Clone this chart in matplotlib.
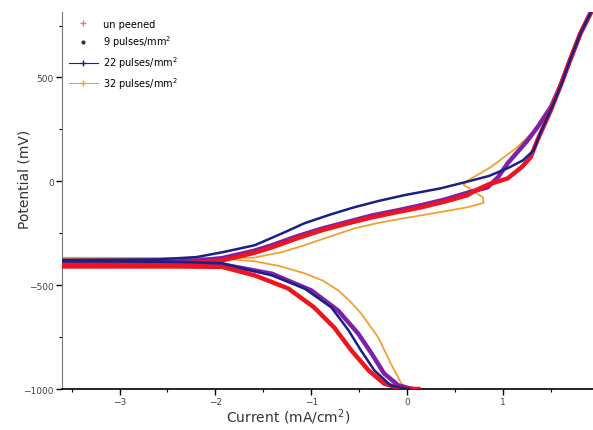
import numpy as np
import matplotlib
matplotlib.use('Agg')
import matplotlib.pyplot as plt
from matplotlib.ticker import MultipleLocator

# series labels and colours
labels = ['un peened', '9 pulses/mm$^2$', '22 pulses/mm$^2$', '32 pulses/mm$^2$']
colors = ['#ee1520', '#7b22a8', '#1c1f86', '#f2a035']

# log current (x) vs potential in mV (y)
# each trace: cathodic branch (bottom -> Ecorr), then anodic branch (Ecorr -> top)
red_x = [0.12, -0.06, -0.24, -0.40, -0.58, -0.76, -0.97, -1.24, -1.59, -1.93, -2.4, -3.6,
         -3.6, -2.6, -2.2, -1.93, -1.6, -1.41, -1.15, -0.89, -0.6, -0.37, -0.1, 0.15, 0.4, 0.63,
         0.72, 0.85, 1.05, 1.20, 1.29, 1.36, 1.50, 1.60, 1.70, 1.81, 1.92]
red_y = [-1000, -998, -974, -911, -815, -704, -607, -516, -453, -412, -410, -410,
         -402, -398, -392, -381, -345, -318, -275, -236, -200, -174, -148, -125, -97, -67,
         -43, -15, 14, 70, 116, 198, 342, 460, 583, 713, 815]

purple_x = [0.06, 0.04, -0.09, -0.24, -0.37, -0.51, -0.72, -1.00, -1.41, -1.93, -2.4, -3.6,
            -3.6, -2.6, -2.2, -1.93, -1.6, -1.41, -1.15, -0.89, -0.6, -0.37, -0.1, 0.15, 0.4, 0.63,
            0.84, 0.95, 1.05, 1.26, 1.36, 1.50, 1.60, 1.70, 1.81, 1.92]
purple_y = [-1000, -998, -983, -925, -829, -733, -622, -525, -445, -400, -398, -398,
            -394, -390, -382, -370, -335, -308, -265, -228, -193, -165, -140, -115, -87, -55,
            -29, 20, 87, 198, 260, 357, 460, 583, 713, 815]

navy_x = [0.02, -0.03, -0.17, -0.34, -0.48, -0.61, -0.79, -1.07, -1.41, -1.93, -2.4, -3.6,
          -3.6, -2.6, -2.2, -1.93, -1.59, -1.3, -1.07, -0.8, -0.55, -0.3, -0.03, 0.35, 0.6,
          0.85, 1.05, 1.21, 1.32, 1.39, 1.53, 1.62, 1.70, 1.81, 1.92]
navy_y = [-1000, -997, -983, -911, -815, -718, -607, -516, -453, -395, -388, -385,
          -378, -376, -365, -342, -308, -250, -202, -160, -125, -95, -67, -34, -5,
          25, 63, 101, 149, 231, 376, 480, 583, 713, 815]

orange_x = [0.18, 0.01, -0.06, -0.17, -0.30, -0.48, -0.60, -0.72, -0.88, -1.07, -1.33, -1.59, -1.93, -2.6, -3.6,
            -3.6, -2.6, -2.0, -1.6, -1.3, -1.07, -0.8, -0.55, -0.3, -0.03, 0.3, 0.63, 0.80,
            0.79, 0.70, 0.59, 0.62, 0.87, 1.15, 1.36, 1.53, 1.62, 1.72, 1.81, 1.92]
orange_y = [-1000, -998, -974, -877, -752, -636, -575, -525, -478, -443, -408, -385, -372, -370, -370,
            -368, -369, -370, -368, -340, -308, -265, -227, -200, -178, -152, -125, -104,
            -77, -50, -17, 0, 67, 164, 260, 370, 470, 600, 713, 815]

fig = plt.figure(figsize=(5.93, 4.31), dpi=100)
ax = fig.add_axes([62/593, 1 - 390/431, 531/593, 377/431])

ax.plot(orange_x, orange_y, color=colors[3], lw=1.3, zorder=2)
ax.plot(purple_x, purple_y, color=colors[1], lw=3.2, zorder=3)
ax.plot(red_x, red_y, color=colors[0], lw=3.2, zorder=4)
ax.plot(navy_x, navy_y, color=colors[2], lw=1.8, zorder=5)

# legend handles
h1, = ax.plot([], [], ls='none', marker='+', ms=4, color=colors[0], alpha=0.6)
h2, = ax.plot([], [], ls='none', marker='.', ms=4, color='#333333')
h3, = ax.plot([], [], ls='-', lw=0.8, marker='+', ms=4, color=colors[2])
h4, = ax.plot([], [], ls='-', lw=0.8, marker='+', ms=4, color=colors[3])
ax.legend([h1, h2, h3, h4], labels, loc='upper left', bbox_to_anchor=(0.0, 1.0),
          frameon=False, fontsize=7, handlelength=3.0, handletextpad=0.5,
          labelspacing=0.5, borderaxespad=0.3)

ax.set_xlim(-3.6, 1.94)
ax.set_ylim(-1000, 815)
ax.xaxis.set_major_locator(MultipleLocator(1))
ax.xaxis.set_minor_locator(MultipleLocator(0.5))
ax.yaxis.set_major_locator(MultipleLocator(500))
ax.yaxis.set_minor_locator(MultipleLocator(250))
ax.tick_params(which='both', direction='out', labelsize=6.5, labelcolor='#444444', pad=2)
ax.tick_params(which='major', length=4, width=1)
ax.tick_params(which='minor', length=2.5, width=0.8)

ax.spines['top'].set_visible(False)
ax.spines['right'].set_visible(False)
ax.spines['left'].set_color('#777777')
ax.spines['bottom'].set_linewidth(1.2)

ax.set_xlabel('Current (mA/cm$^2$)', fontsize=10, color='#333333')
ax.set_ylabel('Potential (mV)', fontsize=10, color='#333333')
ax.xaxis.set_label_coords(0.426, -0.045)
ax.yaxis.set_label_coords(-0.058, 0.56)

plt.savefig('out.png', dpi=100)
